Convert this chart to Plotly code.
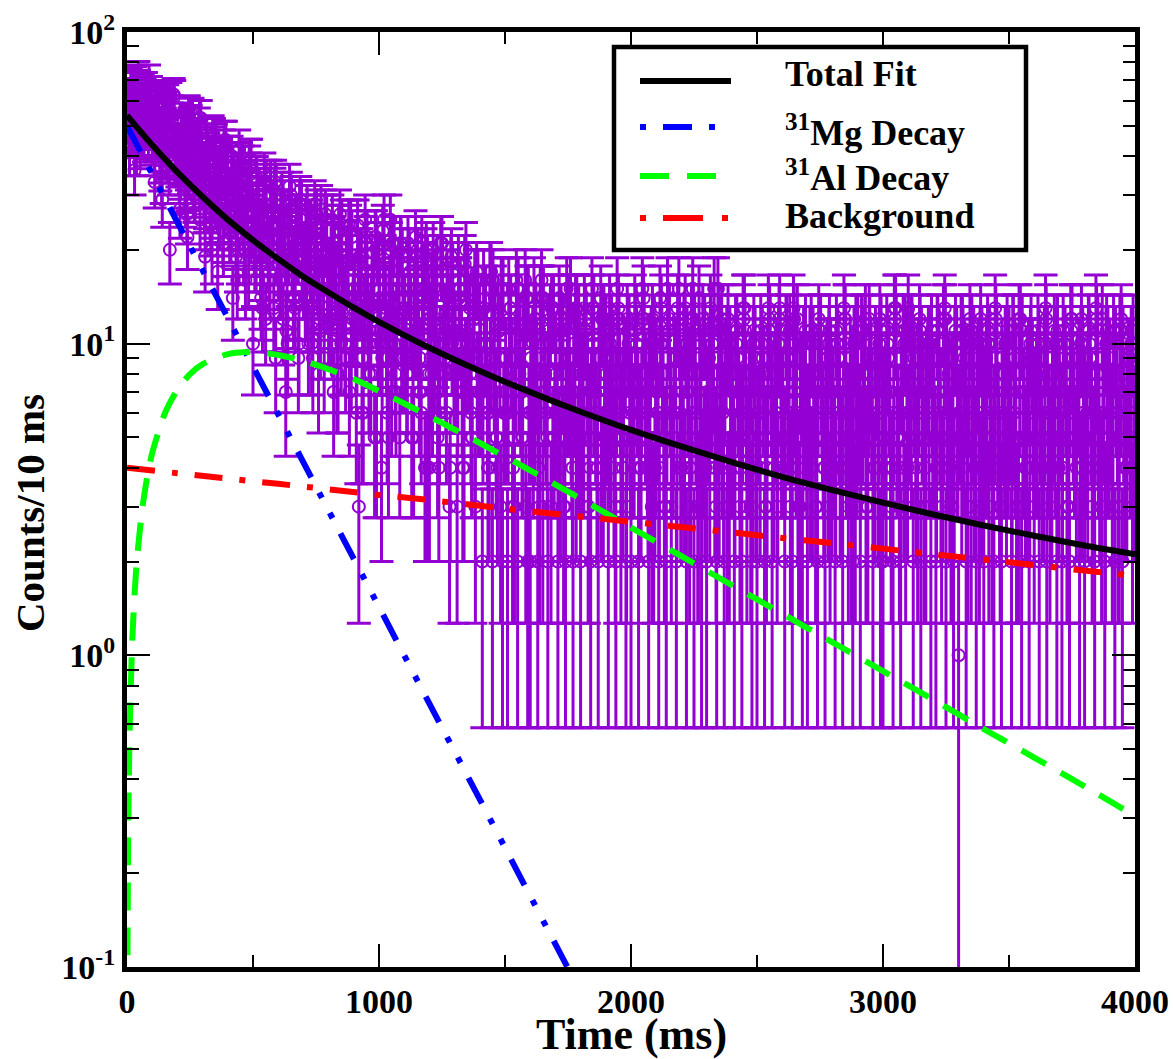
import numpy as np
import plotly.graph_objects as go

# ---- measured decay data: counts per 10 ms window ----
# windows are stepped by 2.5 ms; each list holds every 4th window:
# counts_a starts at 0 ms, counts_c at 2.5 ms, counts_b at 5 ms, counts_d at 7.5 ms
step_ms = 10
offset_a_ms, offset_c_ms, offset_b_ms, offset_d_ms = 0.0, 2.5, 5.0, 7.5
counts_a = [
    51, 41, 66, 36, 70, 58, 47, 63, 55, 61,
    44, 33, 57, 39, 29, 50, 60, 20, 47, 41,
    38, 27, 49, 32, 22, 44, 54, 30, 36, 25,
    33, 19, 42, 26, 47, 29, 17, 37, 23, 31,
    40, 24, 14, 33, 20, 28, 37, 16, 26, 35,
    10, 22, 31, 15, 27, 12, 19, 33, 24, 9,
    18, 26, 12, 7, 23, 30, 14, 20, 9, 25,
    16, 22, 10, 24, 13, 19, 8, 27, 15, 21,
    12, 20, 7, 17, 23, 10, 14, 18, 24, 9,
    15, 6, 3, 19, 11, 22, 8, 13, 17, 5,
    18, 4, 25, 10, 14, 7, 21, 12, 16, 9,
    13, 8, 19, 5, 15, 11, 7, 21, 17, 4,
    4, 14, 9, 18, 6, 21, 12, 16, 3, 10,
    11, 3, 15, 7, 18, 9, 13, 5, 16, 8,
    12, 2, 10, 6, 17, 2, 14, 4, 9, 2,
    7, 2, 13, 3, 9, 2, 11, 5, 16, 2,
    2, 10, 6, 2, 14, 3, 8, 2, 12, 5,
    9, 2, 4, 11, 2, 7, 15, 2, 13, 5,
    2, 8, 12, 3, 2, 10, 6, 2, 14, 4,
    11, 2, 5, 9, 2, 13, 3, 7, 2, 10,
    2, 6, 12, 2, 4, 14, 8, 2, 10, 3,
    9, 2, 13, 5, 2, 11, 3, 6, 2, 15,
    4, 11, 2, 8, 12, 2, 6, 14, 2, 5,
    2, 9, 7, 15, 2, 4, 12, 2, 10, 3,
    8, 2, 11, 5, 2, 13, 3, 7, 2, 9,
    2, 6, 10, 2, 4, 12, 2, 8, 3, 13,
    5, 2, 9, 11, 2, 7, 12, 3, 2, 6,
    2, 10, 4, 8, 2, 11, 6, 2, 9, 3,
    7, 2, 10, 4, 2, 12, 5, 9, 2, 3,
    11, 2, 6, 12, 3, 8, 2, 10, 4, 2,
    2, 7, 9, 4, 2, 13, 6, 2, 11, 3,
    13, 11, 2, 5, 9, 2, 7, 3, 10, 2,
    6, 2, 9, 4, 12, 2, 8, 3, 2, 10,
    1, 11, 5, 2, 8, 3, 10, 2, 6, 4,
    2, 9, 3, 7, 2, 11, 5, 2, 8, 4,
    10, 2, 6, 3, 12, 2, 7, 4, 2, 9,
    3, 8, 2, 5, 10, 2, 6, 4, 11, 2,
    7, 2, 9, 3, 2, 12, 5, 8, 2, 4,
    2, 6, 10, 3, 2, 8, 4, 12, 2, 5,
    9, 3, 2, 6, 11, 2, 4, 7, 5, 3,
]
counts_b = [
    57, 68, 62, 53, 72, 59, 50, 66, 46, 64,
    46, 62, 52, 42, 58, 49, 40, 55, 63, 44,
    36, 52, 42, 33, 55, 39, 31, 45, 50, 34,
    30, 44, 35, 27, 46, 32, 26, 38, 42, 29,
    25, 40, 29, 22, 42, 27, 21, 31, 37, 24,
    21, 34, 24, 18, 35, 22, 17, 26, 31, 20,
    18, 30, 21, 15, 32, 19, 14, 23, 28, 17,
    16, 27, 19, 13, 28, 17, 12, 20, 25, 15,
    14, 25, 17, 11, 26, 15, 10, 18, 23, 12,
    12, 24, 15, 9, 25, 13, 10, 16, 22, 11,
    11, 23, 14, 9, 25, 12, 8, 15, 21, 13,
    10, 21, 13, 8, 22, 11, 7, 14, 19, 12,
    9, 20, 12, 7, 21, 10, 8, 13, 18, 11,
    8, 18, 11, 7, 20, 10, 6, 12, 16, 7,
    7, 16, 10, 6, 17, 9, 5, 11, 15, 6,
    6, 15, 9, 5, 16, 8, 7, 10, 14, 6,
    7, 15, 9, 5, 16, 8, 6, 10, 13, 5,
    6, 14, 8, 5, 15, 9, 5, 7, 13, 6,
    5, 13, 8, 6, 15, 7, 4, 9, 12, 6,
    6, 13, 7, 5, 15, 8, 5, 9, 12, 6,
    5, 13, 7, 6, 15, 8, 5, 4, 12, 4,
    6, 14, 8, 5, 15, 7, 5, 9, 13, 6,
    5, 13, 7, 4, 15, 8, 3, 5, 12, 4,
    6, 13, 8, 5, 15, 7, 6, 9, 12, 5,
    5, 11, 7, 6, 13, 8, 5, 3, 10, 4,
    6, 11, 7, 5, 13, 8, 5, 6, 10, 7,
    5, 11, 6, 4, 13, 5, 3, 8, 10, 6,
    6, 11, 7, 5, 12, 8, 4, 6, 10, 7,
    5, 11, 6, 4, 13, 5, 6, 3, 10, 8,
    6, 11, 7, 5, 12, 6, 4, 8, 10, 6,
    5, 11, 7, 4, 13, 5, 3, 8, 10, 6,
    6, 11, 7, 5, 12, 6, 5, 8, 10, 7,
    5, 11, 6, 4, 13, 5, 4, 3, 10, 5,
    6, 11, 7, 5, 12, 6, 5, 8, 10, 6,
    5, 11, 6, 4, 13, 5, 3, 6, 10, 7,
    6, 11, 5, 3, 12, 5, 4, 8, 10, 6,
    5, 11, 6, 4, 13, 5, 4, 6, 10, 5,
    6, 11, 7, 5, 12, 6, 5, 7, 10, 6,
    5, 11, 6, 4, 13, 5, 4, 6, 10, 5,
    6, 11, 7, 5, 12, 6, 5, 7, 10, 6,
]
counts_c = [
    62, 54, 47, 69, 58, 43, 65, 52, 60, 49,
    53, 45, 59, 37, 50, 56, 42, 61, 48, 39,
    44, 35, 48, 29, 41, 51, 33, 46, 38, 53,
    36, 28, 41, 24, 34, 44, 30, 39, 21, 45,
    30, 23, 35, 19, 28, 38, 25, 33, 17, 39,
    26, 19, 30, 14, 23, 33, 21, 28, 13, 32,
    22, 16, 26, 11, 20, 29, 18, 24, 10, 28,
    19, 14, 23, 10, 17, 26, 15, 21, 9, 25,
    17, 12, 21, 8, 15, 24, 13, 19, 7, 22,
    15, 10, 19, 6, 13, 22, 11, 17, 5, 20,
    14, 9, 18, 6, 12, 21, 10, 16, 5, 19,
    13, 8, 17, 5, 11, 19, 9, 15, 4, 18,
    12, 7, 16, 5, 10, 18, 9, 14, 4, 17,
    11, 7, 15, 4, 9, 17, 8, 13, 3, 16,
    10, 6, 14, 4, 9, 16, 7, 12, 3, 15,
    9, 6, 13, 4, 8, 15, 7, 11, 3, 14,
    9, 5, 12, 4, 8, 14, 6, 11, 3, 13,
    8, 5, 12, 3, 7, 13, 6, 10, 4, 12,
    8, 5, 11, 3, 7, 13, 6, 10, 4, 12,
    8, 5, 11, 4, 7, 12, 6, 9, 3, 11,
    7, 5, 10, 4, 7, 12, 6, 9, 3, 11,
    7, 4, 10, 3, 6, 12, 5, 9, 4, 11,
    7, 4, 10, 3, 6, 11, 5, 9, 4, 11,
    7, 4, 10, 4, 6, 11, 5, 8, 3, 10,
    7, 4, 9, 3, 6, 11, 5, 8, 4, 10,
    6, 4, 9, 3, 7, 11, 5, 8, 4, 10,
    7, 5, 9, 3, 6, 10, 4, 8, 5, 11,
    6, 4, 10, 3, 7, 11, 5, 8, 4, 9,
    7, 4, 9, 5, 6, 10, 3, 8, 5, 11,
    6, 5, 10, 3, 7, 9, 4, 8, 6, 11,
    7, 4, 9, 3, 6, 11, 5, 8, 4, 10,
    6, 5, 9, 4, 7, 10, 3, 8, 5, 11,
    7, 4, 10, 3, 6, 9, 5, 8, 4, 10,
    6, 4, 9, 5, 7, 11, 4, 8, 3, 10,
    7, 5, 10, 3, 6, 10, 4, 9, 5, 11,
    6, 4, 9, 3, 7, 11, 5, 8, 4, 9,
    7, 5, 9, 4, 6, 10, 3, 8, 5, 11,
    6, 4, 10, 3, 7, 9, 5, 8, 4, 10,
    7, 4, 9, 5, 6, 11, 4, 8, 3, 10,
    6, 5, 10, 3, 7, 10, 4, 9, 5, 11,
]
counts_d = [
    48, 63, 56, 41, 67, 53, 45, 59, 70, 50,
    41, 55, 47, 34, 58, 44, 36, 52, 62, 43,
    34, 47, 40, 26, 50, 37, 30, 43, 53, 35,
    28, 40, 33, 20, 43, 31, 25, 36, 45, 29,
    23, 34, 28, 16, 37, 26, 20, 30, 39, 24,
    19, 29, 23, 13, 32, 22, 16, 26, 33, 20,
    16, 25, 20, 10, 28, 19, 13, 22, 29, 17,
    14, 22, 18, 9, 25, 16, 11, 20, 26, 15,
    12, 20, 16, 8, 23, 14, 9, 18, 24, 13,
    11, 18, 14, 6, 21, 12, 8, 16, 22, 10,
    10, 17, 13, 5, 20, 11, 7, 15, 21, 9,
    9, 16, 12, 5, 19, 10, 6, 14, 20, 8,
    8, 15, 11, 4, 18, 10, 6, 13, 19, 8,
    8, 14, 10, 4, 17, 9, 5, 12, 17, 7,
    7, 13, 10, 4, 16, 8, 5, 11, 15, 6,
    7, 12, 9, 3, 15, 8, 5, 10, 14, 6,
    6, 12, 8, 3, 14, 7, 5, 10, 13, 6,
    6, 11, 8, 3, 13, 7, 4, 9, 12, 5,
    6, 11, 8, 4, 13, 7, 4, 9, 12, 5,
    6, 10, 8, 3, 12, 7, 4, 9, 11, 5,
    5, 11, 7, 4, 12, 6, 4, 9, 10, 5,
    6, 10, 8, 3, 11, 7, 5, 9, 12, 4,
    5, 10, 7, 4, 12, 6, 3, 8, 11, 5,
    6, 11, 8, 3, 11, 7, 4, 9, 10, 5,
    5, 10, 7, 4, 12, 6, 5, 8, 11, 4,
    6, 10, 8, 3, 11, 7, 4, 9, 12, 5,
    5, 11, 7, 4, 12, 6, 3, 8, 10, 5,
    6, 10, 8, 3, 11, 7, 4, 9, 11, 4,
    5, 10, 7, 4, 12, 6, 5, 8, 10, 5,
    6, 11, 8, 3, 11, 7, 4, 9, 12, 5,
    5, 10, 7, 4, 12, 6, 3, 8, 11, 4,
    6, 10, 8, 3, 11, 7, 4, 9, 10, 5,
    5, 11, 7, 4, 12, 6, 5, 8, 11, 5,
    6, 10, 8, 3, 11, 7, 4, 9, 12, 4,
    5, 10, 7, 4, 12, 6, 3, 8, 10, 5,
    6, 11, 8, 3, 11, 7, 4, 9, 11, 5,
    5, 10, 7, 4, 12, 6, 5, 8, 10, 4,
    6, 10, 8, 3, 11, 7, 4, 9, 12, 5,
    5, 11, 7, 4, 12, 6, 3, 8, 11, 5,
    6, 10, 8, 3, 11, 7, 4, 9, 10, 4,
]

# ---- fitted components (counts / 10 ms) ----
fit_t = [0, 50, 100, 150, 200, 250, 300, 400, 500, 600, 700, 800, 900, 1000,
         1200, 1400, 1600, 1800, 2000, 2200, 2400, 2600, 2800, 3000, 3200,
         3400, 3600, 3800, 4000]
total_fit = [54.0, 48.3, 43.4, 39.2, 35.5, 32.4, 29.6, 25.0, 21.5, 18.7, 16.4,
             14.6, 13.05, 11.75, 9.70, 8.17, 6.99, 6.05, 5.29, 4.68, 4.17, 3.74,
             3.39, 3.09, 2.83, 2.61, 2.42, 2.25, 2.11]

mg_t = [0, 100, 200, 300, 400, 500, 600, 700, 800, 900, 1000, 1200, 1400,
        1600, 1800, 2000]
mg_decay = [50.0, 35.0, 24.5, 17.2, 12.1, 8.45, 5.93, 4.16, 2.91, 2.04, 1.43,
            0.70, 0.345, 0.169, 0.083, 0.041]

al_t = [1, 2, 5, 10, 20, 30, 40, 60, 80, 100, 150, 200, 250, 300, 400, 500,
        600, 700, 800, 900, 1000, 1200, 1400, 1600, 1800, 2000, 2200, 2400,
        2600, 2800, 3000, 3200, 3400, 3600, 3800, 4000]
al_decay = [0.056, 0.111, 0.277, 0.547, 1.07, 1.57, 2.05, 2.93, 3.73, 4.46,
            5.97, 7.13, 7.99, 8.60, 9.26, 9.40, 9.20, 8.80, 8.28, 7.70, 7.05,
            5.85, 4.80, 3.92, 3.18, 2.57, 2.08, 1.68, 1.36, 1.10, 0.89, 0.72,
            0.58, 0.47, 0.38, 0.305]

bkg_t = [0, 200, 400, 600, 800, 1000, 1200, 1400, 1600, 1800, 2000, 2200,
         2400, 2600, 2800, 3000, 3200, 3400, 3600, 3800, 4000]
background = [4.00, 3.84, 3.69, 3.55, 3.41, 3.27, 3.15, 3.02, 2.90, 2.79, 2.68,
              2.58, 2.48, 2.38, 2.29, 2.20, 2.11, 2.03, 1.95, 1.87, 1.80]

x_ticks = [0, 1000, 2000, 3000, 4000]
y_ticks = [0.1, 1, 10, 100]
y_ticktext = ["10<sup>-1</sup>", "10<sup>0</sup>", "10<sup>1</sup>", "10<sup>2</sup>"]

# ---- styling ----
PURPLE = "#9400D3"
FONT = "Liberation Serif, Times New Roman, serif"
W, H = 1173, 1059
L, R, T, B = 127, 38, 32, 92
PW, PH = W - L - R, H - T - B

MG_DASH = "29px,17px,6px,17px,6px,17px"
AL_DASH = "28px,17px"
BKG_DASH = "28px,17px,6px,17px"

series = [(counts_a, offset_a_ms), (counts_c, offset_c_ms),
          (counts_b, offset_b_ms), (counts_d, offset_d_ms)]
times = np.concatenate([np.arange(len(c)) * step_ms + off for c, off in series])
n = np.concatenate([np.array(c, dtype=float) for c, _ in series])
order = np.argsort(times, kind="stable")
times, n = times[order], n[order]

err_up = np.sqrt(n)
# a window with a single count has its lower bar running to zero (off the log scale)
err_dn = np.where(n - np.sqrt(n) <= 0, n * 0.999, np.sqrt(n))

fig = go.Figure()

fig.add_trace(go.Scatter(
    x=times, y=n, mode="markers",
    marker=dict(symbol="circle-open", size=12, color=PURPLE,
                line=dict(width=2, color=PURPLE)),
    error_y=dict(type="data", array=err_up, arrayminus=err_dn, symmetric=False,
                 color=PURPLE, thickness=3, width=12),
    showlegend=False, hoverinfo="skip",
))

fig.add_trace(go.Scatter(x=mg_t, y=mg_decay, mode="lines",
                         line=dict(color="#0000FF", width=6, dash=MG_DASH,
                                   shape="spline"), showlegend=False))
fig.add_trace(go.Scatter(x=al_t, y=al_decay, mode="lines",
                         line=dict(color="#00FF00", width=6, dash=AL_DASH,
                                   shape="spline", smoothing=0.6),
                         showlegend=False))
fig.add_trace(go.Scatter(x=bkg_t, y=background, mode="lines",
                         line=dict(color="#FF0000", width=6, dash=BKG_DASH,
                                   shape="spline"), showlegend=False))
fig.add_trace(go.Scatter(x=fit_t, y=total_fit, mode="lines",
                         line=dict(color="black", width=6, shape="spline"),
                         showlegend=False))


def px_x(p):
    return (p - L) / PW


def px_y(p):
    return (H - B - p) / PH


shapes = []
annotations = []

# legend box
shapes.append(dict(type="rect", xref="paper", yref="paper",
                   x0=px_x(614), x1=px_x(1026), y0=px_y(250), y1=px_y(47),
                   line=dict(color="black", width=4.5), fillcolor="white",
                   layer="above"))

legend_rows = [
    ("Total Fit", "black", "solid", 81, 74),
    ("<sup>31</sup>Mg Decay", "#0000FF", "6px,17px,29px,17px,6px,17px", 127, 130),
    ("<sup>31</sup>Al Decay", "#00FF00", "29px,18px", 176, 175),
    ("Background", "#FF0000", "6px,17px,40px,19px,6px", 218, 216),
]
for label, color, dash, line_y, text_y in legend_rows:
    shapes.append(dict(type="line", xref="paper", yref="paper",
                       x0=px_x(640), x1=px_x(731), y0=px_y(line_y), y1=px_y(line_y),
                       line=dict(color=color, width=6, dash=dash), layer="above"))
    annotations.append(dict(xref="paper", yref="paper", x=px_x(783), y=px_y(text_y),
                            xanchor="left", yanchor="middle", showarrow=False,
                            text=label,
                            font=dict(family=FONT, size=36, color="black",
                                      weight="bold")))

# axis titles
annotations.append(dict(xref="paper", yref="paper", x=0.5, y=px_y(1034),
                        xanchor="center", yanchor="middle", showarrow=False,
                        text="Time (ms)",
                        font=dict(family=FONT, size=44, color="black", weight="bold")))
annotations.append(dict(xref="paper", yref="paper", x=px_x(30), y=px_y(513),
                        xanchor="center", yanchor="middle", showarrow=False,
                        textangle=-90, text="Counts/10 ms",
                        font=dict(family=FONT, size=41, color="black", weight="bold")))

tickfont = dict(family=FONT, size=34, color="black", weight="bold")

fig.update_layout(
    width=W, height=H,
    margin=dict(l=L, r=R, t=T, b=B, pad=0, autoexpand=False),
    paper_bgcolor="white", plot_bgcolor="white",
    shapes=shapes, annotations=annotations,
    xaxis=dict(range=[0, 4000], tickvals=x_ticks,
               ticktext=[str(v) for v in x_ticks], automargin=False,
               ticks="inside", ticklen=23, tickwidth=2, tickcolor="black",
               minor=dict(dtick=500, ticks="inside", ticklen=12, tickwidth=2,
                          tickcolor="black", showgrid=False),
               showline=True, linewidth=5, linecolor="black", mirror="allticks",
               showgrid=False, zeroline=False, tickfont=tickfont),
    yaxis=dict(type="log", range=[-1, 2], tickvals=y_ticks, ticktext=y_ticktext,
               automargin=False,
               ticks="inside", ticklen=23, tickwidth=2, tickcolor="black",
               minor=dict(dtick="D1", ticks="inside", ticklen=12, tickwidth=2,
                          tickcolor="black", showgrid=False),
               showline=True, linewidth=5, linecolor="black", mirror="allticks",
               showgrid=False, zeroline=False, tickfont=tickfont),
)

fig.write_html("out.html")
